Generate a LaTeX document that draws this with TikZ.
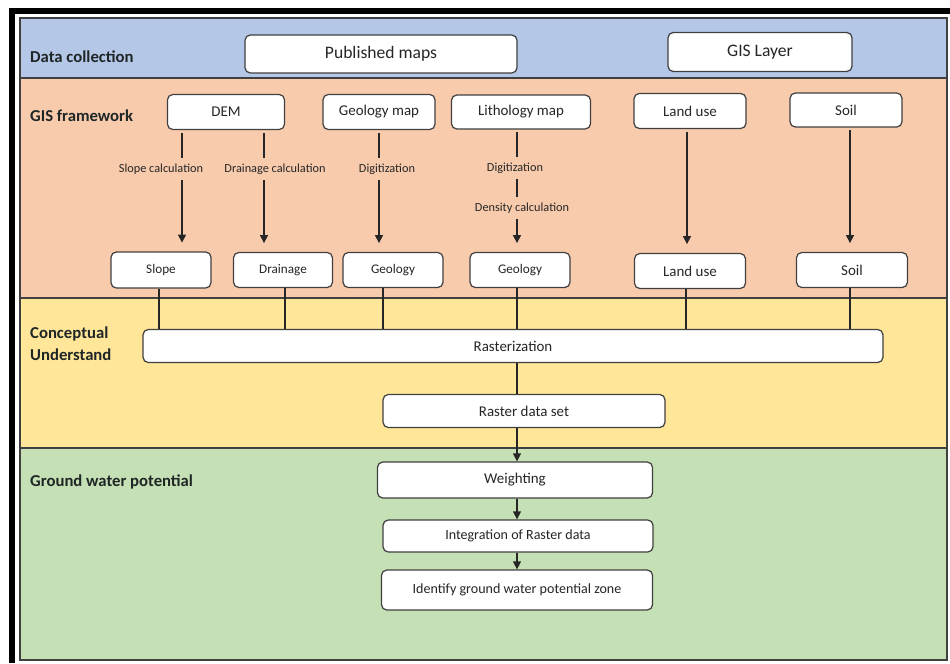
\documentclass[tikz,border=0pt]{standalone}
\usepackage{fontspec}
\setmainfont{Carlito}
\usetikzlibrary{arrows.meta}
\definecolor{dcfill}{HTML}{B4C7E7}
\definecolor{gisfill}{HTML}{F8CBAD}
\definecolor{cufill}{HTML}{FFE699}
\definecolor{gwfill}{HTML}{C5E0B4}
\definecolor{boxline}{HTML}{404040}
\definecolor{lanetext}{HTML}{1F2626}
\tikzset{
  box/.style={draw=boxline,fill=white,rounded corners=3pt,line width=0.7pt,
    inner sep=0pt,text=black!85,font=\fontsize{8.5}{10}\selectfont},
  sz/.style 2 args={minimum width=#1*0.02cm,minimum height=#2*0.02cm},
  lane/.style={anchor=west,align=left,text=lanetext,
    font=\bfseries\fontsize{9.5}{12.5}\selectfont},
  calc/.style={fill=gisfill,inner xsep=1pt,inner ysep=3pt,text=black!85,
    font=\fontsize{7}{8}\selectfont},
  flow/.style={draw=black!85,line width=0.7pt,-{Triangle[length=4.5pt,width=4.5pt]}},
  link/.style={draw=black!85,line width=0.6pt},
}
\begin{document}
\begin{tikzpicture}[x=0.02cm,y=-0.02cm]
\useasboundingbox (0,0) rectangle (950,663);
% frame and bands
\fill[black] (9,8) rectangle (950,14);
\fill[black] (9,8) rectangle (15,663);
\fill[dcfill] (20,18) rectangle (947,78);
\fill[gisfill] (20,78) rectangle (947,298);
\fill[cufill] (20,298) rectangle (947,448);
\fill[gwfill] (20,448) rectangle (947,660);
\draw[boxline,line width=0.8pt] (20,18) rectangle (947,660);
\foreach \y in {78,298,448}
  \draw[boxline,line width=0.8pt] (20,\y) -- (947,\y);

\node[lane] (ldc) at (24,57) {Data collection};
\node[lane] (lgis) at (24,116) {GIS framework};
\node[lane] (lcu) at (24,344) {Conceptual\\Understand};
\node[lane] (lgw) at (24,482) {Ground water potential};

% data collection
\node[box,sz={272}{38},font=\fontsize{10}{12}\selectfont] (pub) at (381,54) {Published maps};
\node[box,sz={184}{39},font=\fontsize{10}{12}\selectfont] (gisl) at (760,52) {GIS Layer};

% GIS framework
\node[box,sz={117}{35}] (dem) at (226,112) {DEM};
\node[box,sz={112}{35}] (geomap) at (379,112) {Geology map};
\node[box,sz={139}{34}] (lithmap) at (521,112) {Lithology map};
\node[box,sz={112}{35}] (landtop) at (690,111) {Land use};
\node[box,sz={112}{34}] (soiltop) at (846,110) {Soil};

\node[box,sz={100}{36},font=\fontsize{7.5}{9}\selectfont] (slope) at (161,270) {Slope};
\node[box,sz={99}{35},font=\fontsize{7.5}{9}\selectfont] (drain) at (283,270) {Drainage};
\node[box,sz={100}{35},font=\fontsize{7.5}{9}\selectfont] (geo1) at (393,270) {Geology};
\node[box,sz={100}{35},font=\fontsize{7.5}{9}\selectfont] (geo2) at (520,270) {Geology};
\node[box,sz={111}{35}] (landbot) at (690,271) {Land use};
\node[box,sz={111}{35}] (soilbot) at (852,270) {Soil};

\foreach \t/\b/\x in {dem/slope/182,dem/drain/264,geomap/geo1/379,
    lithmap/geo2/517,landtop/landbot/687,soiltop/soilbot/850}
  \draw[flow,shorten <=1.5pt,shorten >=5pt] (\t.south -| \x,0) -- (\b.north -| \x,0);

\node[calc] (cslope) at (161,169) {Slope calculation};
\node[calc] (cdrain) at (275,169) {Drainage calculation};
\node[calc] (cdig1) at (387,169) {Digitization};
\node[calc] (cdig2) at (515,168) {Digitization};
\node[calc] (cdens) at (522,208) {Density calculation};

% conceptual understand
\node[box,sz={740}{33}] (raster) at (513,346) {Rasterization};
\node[box,sz={282}{33}] (rds) at (524,411) {Raster data set};

\foreach \b/\x in {slope/159,drain/285,geo1/383,geo2/517,landbot/686,soilbot/850}
  \draw[link] (\b.south -| \x,0) -- (raster.north -| \x,0);
\draw[link] (raster.south -| 517,0) -- (rds.north -| 517,0);

% ground water potential
\node[box,sz={275}{36}] (weight) at (515,480) {Weighting};
\node[box,sz={270}{32},font=\fontsize{8}{10}\selectfont] (integ) at (518,536) {Integration of Raster data};
\node[box,sz={271}{40},font=\fontsize{8}{10}\selectfont] (ident) at (517,590) {Identify ground water potential zone};

\draw[flow] (rds.south -| 517,0) -- (weight.north -| 517,0);
\draw[flow] (weight.south -| 517,0) -- (integ.north -| 517,0);
\draw[flow] (integ.south -| 517,0) -- (ident.north -| 517,0);
\end{tikzpicture}
\end{document}
